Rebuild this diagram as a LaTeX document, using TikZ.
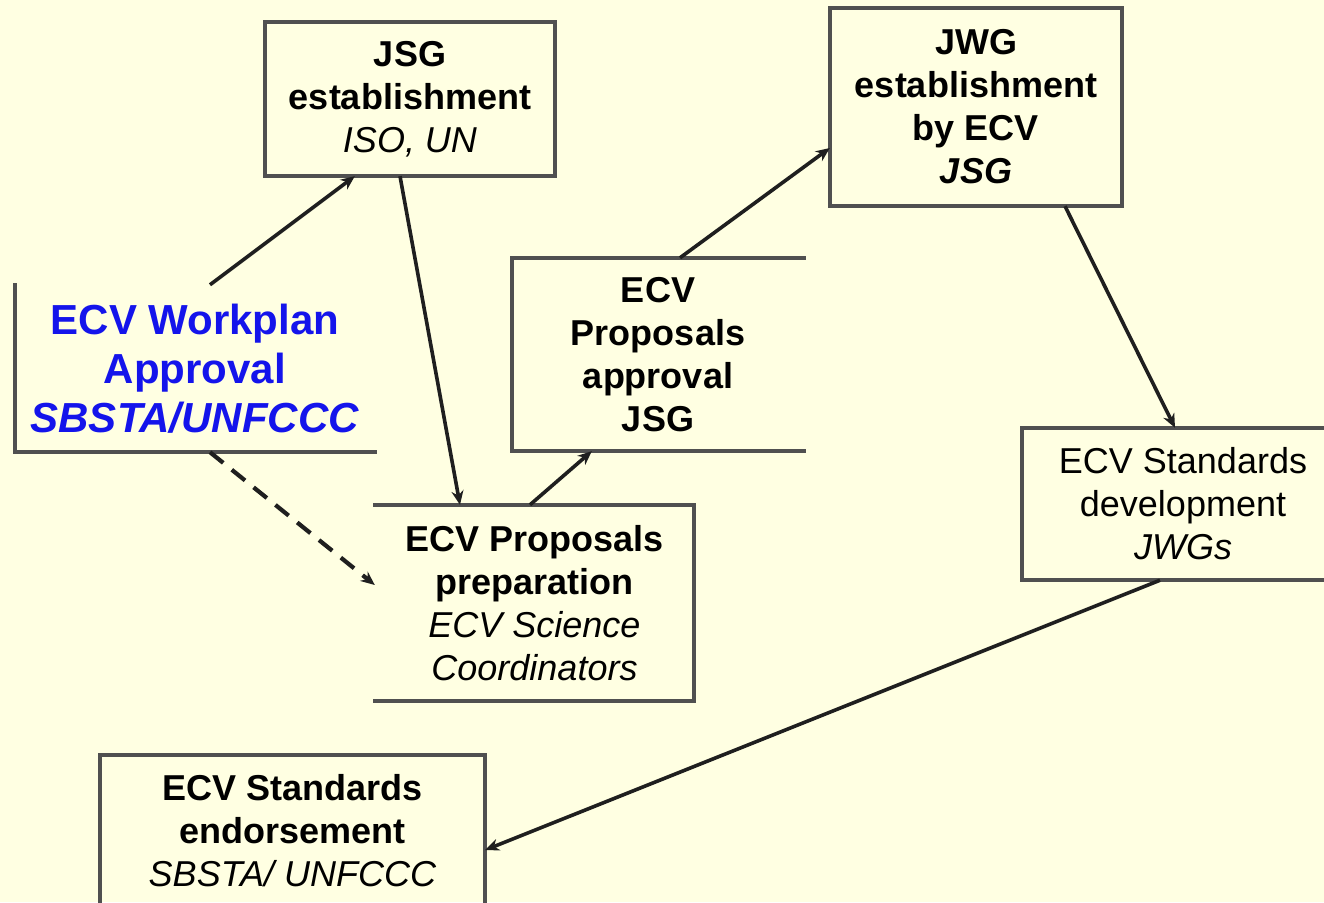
\documentclass[tikz,border=0pt]{standalone}
\usepackage{fontspec}
\setmainfont{Liberation Sans}
\usetikzlibrary{arrows.meta}
\definecolor{bg}{RGB}{255,255,226}
\definecolor{edge}{RGB}{80,80,80}
\definecolor{wpblue}{RGB}{20,20,235}
\tikzset{
  boxnode/.style={inner sep=0pt, align=center, font=\fontsize{36}{43}\selectfont\bfseries},
  plainnode/.style={inner sep=0pt, align=center, font=\fontsize{36}{43}\selectfont},
  border/.style={draw=edge, line width=4pt, line cap=rect},
  flow/.style={draw=black!88, line width=3.6pt, -{Stealth[length=14pt,width=12pt]}},
  dflow/.style={flow, line width=4.2pt, dash pattern=on 17pt off 11pt}
}
\begin{document}
\begin{tikzpicture}[x=1pt,y=-1pt]
\fill[bg] (0,0) rectangle (1324,902);
\useasboundingbox (0,0) rectangle (1324,902);

% nodes
\node[boxnode, minimum width=290pt, minimum height=154pt] (jsg) at (410,99)
  {JSG\\establishment\\\textit{\mdseries ISO, UN}};
\node[boxnode, minimum width=292pt, minimum height=198pt] (jwg) at (976,107)
  {JWG\\establishment\\by ECV\\\textit{JSG}};
\node[boxnode, text=wpblue, font=\fontsize{42}{49}\selectfont\bfseries,
  minimum width=360pt, minimum height=167pt] (wp) at (195,368.5)
  {ECV Workplan\\Approval\\\textit{SBSTA/UNFCCC}};
\node[boxnode, minimum width=292pt, minimum height=193pt] (appr) at (658,354.5)
  {ECV\\Proposals\\approval\\JSG};
\node[boxnode, minimum width=319pt, minimum height=196pt] (prep) at (534.5,603)
  {ECV Proposals\\preparation\\\textit{\mdseries ECV Science}\\\textit{\mdseries Coordinators}};
\node[plainnode, minimum width=322pt, minimum height=152pt] (sd) at (1183,504)
  {ECV Standards\\development\\\textit{JWGs}};
\node[boxnode, minimum width=385pt, minimum height=152pt] (en) at (292.5,831)
  {ECV Standards\\endorsement\\\textit{\mdseries SBSTA/ UNFCCC}};

% borders
\draw[border] (jsg.south west) rectangle (jsg.north east);
\draw[border] (jwg.south west) rectangle (jwg.north east);
\draw[border] (wp.north west) -- (wp.south west) -- (wp.south east);
\draw[border] (appr.north east) -- (appr.north west) -- (appr.south west) -- (appr.south east);
\draw[border] (prep.north west) -- (prep.north east) -- (prep.south east) -- (prep.south west);
\draw[border] (sd.north east) -- (sd.north west) -- (sd.south west) -- (sd.south east);
\draw[border] (en.south west) -- (en.north west) -- (en.north east) -- (en.south east);

% connectors
\draw[flow] ([xshift=15pt]wp.north) -- ([xshift=90pt]jsg.south west);
\draw[flow] ([xshift=-10pt]jsg.south) -- ([xshift=-74.5pt]prep.north);
\draw[dflow] ([xshift=15pt]wp.south) -- ([yshift=18pt]prep.west);
\draw[flow] ([xshift=-4.5pt]prep.north) -- ([xshift=80pt]appr.south west);
\draw[flow] ([xshift=22pt]appr.north) -- ([yshift=-41pt]jwg.west);
\draw[flow] ([xshift=89pt]jwg.south) -- ([xshift=-8pt]sd.north);
\draw[flow] ([xshift=-23pt]sd.south) -- ([yshift=-19pt]en.east);
\end{tikzpicture}
\end{document}
